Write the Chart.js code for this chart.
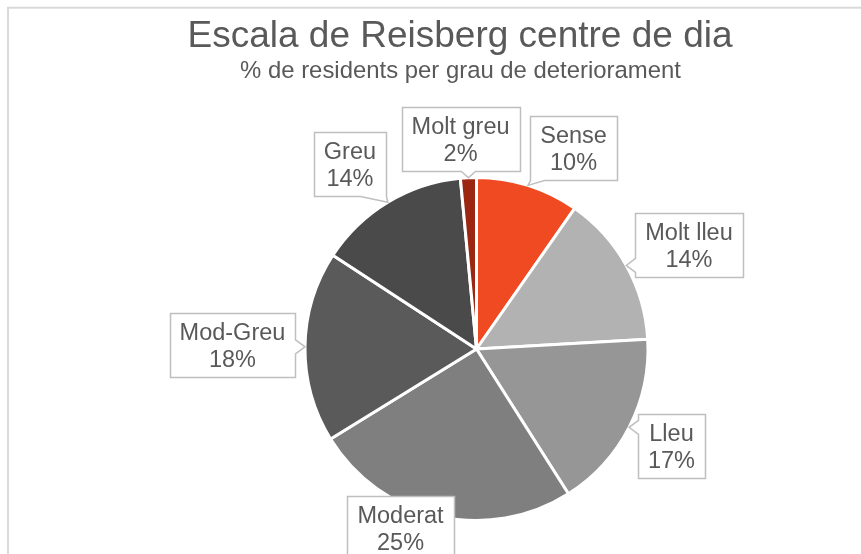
<!DOCTYPE html>
<html>
<head>
<meta charset="utf-8">
<title>Escala de Reisberg centre de dia</title>
<script src="https://cdn.jsdelivr.net/npm/chart.js@4.4.1/dist/chart.umd.min.js"></script>
<style>
    html, body { margin: 0; padding: 0; background: #ffffff; overflow: hidden; }
    #reisbergChart { display: block; }
</style>
</head>
<body>
<canvas id="reisbergChart" width="861" height="554"></canvas>
<script>
// dades llegides del gràfic (% de residents)
const categories = ["Sense", "Molt lleu", "Lleu", "Moderat", "Mod-Greu", "Greu", "Molt greu"];
const percentages = [9.7, 14.4, 16.9, 25.2, 18.0, 14.3, 1.5];
const sliceColors = ["#ef4a22", "#b2b2b2", "#969696", "#7f7f7f", "#5a5a5a", "#4a4a4a", "#9b2612"];

const chartTitle = "Escala de Reisberg centre de dia";
const chartSubtitle = "% de residents per grau de deteriorament";

const FONT = '"Liberation Sans", Arial, Helvetica, sans-serif';
const TEXT_COLOR = "#595959";

// on va cada etiqueta, relatiu al centre del pastís (en radis)
const calloutOffsets = [
    [0.566, -1.172],
    [1.239, -0.606],
    [1.137, 0.566],
    [-0.443, 1.044],
    [-1.423, -0.023],
    [-0.738, -1.079],
    [-0.093, -1.224]
];

window.onload = function () {
    drawPieChart();
};

// marc gris + títol i subtítol
const framePlugin = {
    id: "frame",
    beforeDraw(chart) {
        const ctx = chart.ctx;
        ctx.save();
        ctx.fillStyle = "#ffffff";
        ctx.fillRect(0, 0, chart.width, chart.height);
        ctx.strokeStyle = "#d9d9d9";
        ctx.lineWidth = 2;
        ctx.strokeRect(8, 7.7, chart.width + 40, chart.height + 40);

        ctx.fillStyle = TEXT_COLOR;
        ctx.textAlign = "center";
        ctx.textBaseline = "alphabetic";
        ctx.font = "37px " + FONT;
        ctx.fillText(chartTitle, 460, 47);
        ctx.font = "23.9px " + FONT;
        ctx.fillText(chartSubtitle, 460.5, 78);
        ctx.restore();
    }
};

function calloutPath(ctx, x0, y0, x1, y1, tip, baseW) {
    const tx = tip[0], ty = tip[1];
    const outL = x0 - tx, outR = tx - x1, outT = y0 - ty, outB = ty - y1;
    const dx = Math.max(outL, outR), dy = Math.max(outT, outB);
    const half = baseW / 2;
    let side = null;
    if (dx > 0 || dy > 0) {
        if (dy >= dx) side = outB > 0 ? "bottom" : "top";
        else side = outR > 0 ? "right" : "left";
    }
    const cx = Math.min(Math.max(tx, x0 + half), x1 - half);
    const cy = Math.min(Math.max(ty, y0 + half), y1 - half);

    ctx.beginPath();
    ctx.moveTo(x0, y0);
    if (side === "top") {
        ctx.lineTo(cx - half, y0); ctx.lineTo(tx, ty); ctx.lineTo(cx + half, y0);
    }
    ctx.lineTo(x1, y0);
    if (side === "right") {
        ctx.lineTo(x1, cy - half); ctx.lineTo(tx, ty); ctx.lineTo(x1, cy + half);
    }
    ctx.lineTo(x1, y1);
    if (side === "bottom") {
        ctx.lineTo(cx + half, y1); ctx.lineTo(tx, ty); ctx.lineTo(cx - half, y1);
    }
    ctx.lineTo(x0, y1);
    if (side === "left") {
        ctx.lineTo(x0, cy + half); ctx.lineTo(tx, ty); ctx.lineTo(x0, cy - half);
    }
    ctx.closePath();
}

// etiquetes amb requadre i punta cap a la porció
const calloutPlugin = {
    id: "callouts",
    afterDatasetsDraw(chart) {
        const ctx = chart.ctx;
        const meta = chart.getDatasetMeta(0);
        const values = chart.data.datasets[0].data;
        const total = values.reduce((a, b) => a + b, 0);

        ctx.save();
        ctx.font = "23.5px " + FONT;
        meta.data.forEach((arc, i) => {
            const p = arc.getProps(["x", "y", "startAngle", "endAngle", "outerRadius"], true);
            const r = p.outerRadius;
            const mid = (p.startAngle + p.endAngle) / 2;
            const tip = [p.x + Math.cos(mid) * r, p.y + Math.sin(mid) * r];

            const name = chart.data.labels[i];
            const pct = Math.round(values[i] / total * 100) + "%";
            const w = Math.max(ctx.measureText(name).width, ctx.measureText(pct).width) + 20;
            const h = 64;
            const bx = p.x + calloutOffsets[i][0] * r;
            const by = p.y + calloutOffsets[i][1] * r;
            const x0 = Math.round(bx - w / 2) + 0.5, x1 = Math.round(bx + w / 2) + 0.5;
            const y0 = Math.round(by - h / 2) + 0.5, y1 = Math.round(by + h / 2) + 0.5;

            calloutPath(ctx, x0, y0, x1, y1, tip, i === 5 ? 26 : 14);
            ctx.fillStyle = "#ffffff";
            ctx.fill();
            ctx.strokeStyle = "#bfbfbf";
            ctx.lineWidth = 1.5;
            ctx.stroke();

            ctx.fillStyle = TEXT_COLOR;
            ctx.textAlign = "center";
            ctx.textBaseline = "alphabetic";
            ctx.fillText(name, bx, by - 5);
            ctx.fillText(pct, bx, by + 22);
        });
        ctx.restore();
    }
};

function drawPieChart() {
    const ctx = document.getElementById("reisbergChart").getContext("2d");

    new Chart(ctx, {
        type: "pie",
        data: {
            labels: categories,
            datasets: [{
                data: percentages,
                backgroundColor: sliceColors,
                borderColor: "#ffffff",
                borderWidth: 3
            }]
        },
        options: {
            responsive: false,
            animation: false,
            layout: {
                padding: { left: 303.5, right: 211.5, top: 176, bottom: 32 }
            },
            plugins: {
                legend: { display: false },
                tooltip: { enabled: false },
                title: { display: false }
            }
        },
        plugins: [framePlugin, calloutPlugin]
    });
    console.log("chart drawn");
}
</script>
</body>
</html>
